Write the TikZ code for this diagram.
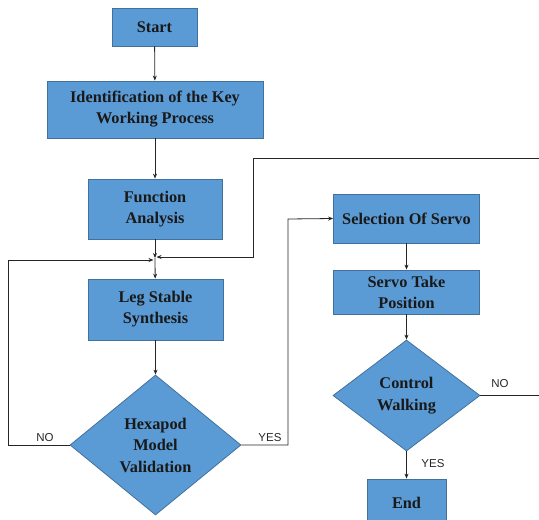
\documentclass[tikz,border=0pt]{standalone}
\usepackage{fontspec}
\setmainfont{Liberation Serif}
\newfontfamily\lblfont{Liberation Sans}
\usetikzlibrary{arrows.meta,shapes.geometric}
\definecolor{boxfill}{HTML}{5B9BD5}
\definecolor{boxline}{HTML}{41719C}
\definecolor{wire}{HTML}{262626}
\tikzset{
  stepbox/.style={draw=boxline, line width=0.8pt, fill=boxfill, inner sep=0pt,
    font=\fontsize{16.3}{21}\selectfont\bfseries, align=center, text=black!90},
  decision/.style={diamond, draw=boxline, line width=0.8pt, fill=boxfill, inner sep=0pt,
    font=\fontsize{16.3}{21.5}\selectfont\bfseries, align=center, text=black!90},
  wirestyle/.style={draw=wire, line width=0.8pt},
  arr/.style={wirestyle, -{Stealth[length=5pt,width=4pt]}},
  lbl/.style={font=\lblfont\fontsize{11.5}{12}\selectfont, text=black!85, inner sep=1pt}
}
\begin{document}
\begin{tikzpicture}[x=1pt,y=-1pt]
\useasboundingbox (0,0) rectangle (539,520);
\node[stepbox, minimum width=85, minimum height=38] (start) at (154.5,27) {Start};
\node[stepbox, minimum width=216, minimum height=57] (ident) at (155,109.5) {Identification of the Key\\Working Process};
\node[stepbox, minimum width=134, minimum height=60] (func) at (155,209) {Function\\Analysis};
\node[stepbox, minimum width=135, minimum height=61] (leg) at (155.5,309.5) {Leg Stable\\Synthesis};
\node[decision, minimum width=171, minimum height=140] (hexa) at (155.5,445) {Hexapod\\Model\\Validation};
\node[stepbox, minimum width=146, minimum height=49] (sel) at (406.5,218.5) {Selection Of Servo};
\node[stepbox, minimum width=146, minimum height=44] (servo) at (406.5,292) {Servo Take\\Position};
\node[decision, minimum width=147, minimum height=111] (ctrl) at (406.5,395.5) {Control\\Walking};
\node[stepbox, minimum width=79, minimum height=48] (endn) at (406.5,503) {End};
\coordinate (merge) at (155,258);
\coordinate (mergeL) at (153.5,260);
\coordinate (mergeR) at (156.5,257);
% main chain
\draw[arr] (start) -- (ident);
\draw[arr] (ident) -- (func);
\draw[arr] (func) -- (merge);
\draw[arr] (merge) -- (leg);
\draw[arr] (leg) -- (hexa);
% NO loop
\draw[arr] (hexa.west) -- (8,445) -- (8,260) -- (mergeL);
\node[lbl] (no1) at (45,438) {NO};
% YES to Selection
\draw[arr] (hexa.east) -- (288,445) -- (288,219) -- (sel.west);
\node[lbl] (yes1) at (270,438) {YES};
\draw[arr] (sel) -- (servo);
\draw[arr] (servo) -- (ctrl);
% Control NO back
\draw[arr] (ctrl.east) -- (548,395.5) -- (548,158) -- (253,158) -- (253,257) -- (mergeR);
\node[lbl] (no2) at (500,384) {NO};
\draw[arr] (ctrl.south) -- (endn);
\node[lbl] (yes2) at (433,464) {YES};
\end{tikzpicture}
\end{document}
